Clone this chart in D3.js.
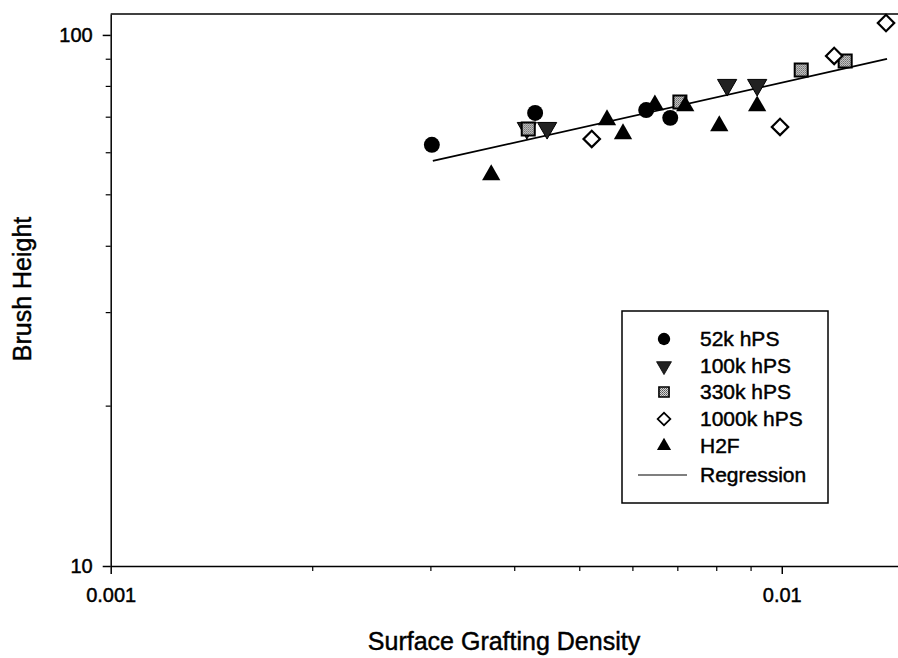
<!DOCTYPE html>
<html>
<head>
<meta charset="utf-8">
<script src="https://cdn.jsdelivr.net/npm/d3@7"></script>
<style>
  html, body { margin: 0; padding: 0; background: #fff; }
  svg { display: block; font-family: Arial, "Liberation Sans", Helvetica, sans-serif; }
  svg text { stroke: #000; stroke-width: 0.45px; fill: #000; }
</style>
</head>
<body>
<svg id="chart" width="898" height="658"></svg>
<script>
// Brush height vs surface grafting density (log-log)
const series52k   = [[0.00301, 62.1], [0.00429, 71.3], [0.00628, 72.2], [0.00682, 69.8]];
const series100k  = [[0.00417, 66.8], [0.00447, 66.8], [0.00829, 80.5], [0.00919, 80.5]];
const series330k  = [[0.00419, 66.5], [0.00705, 74.8], [0.01069, 85.9], [0.01243, 89.3]];
const series1000k = [[0.00521, 63.7], [0.00994, 67.1], [0.01197, 91.3], [0.01430, 105.3]];
const seriesH2F   = [[0.00369, 54.5], [0.00549, 69.2], [0.00580, 65.1], [0.00647, 73.8],
                     [0.00718, 73.5], [0.00807, 67.4], [0.00919, 73.5]];
const regression  = [[0.00302, 57.9], [0.01435, 90.1]];

const seriesNames = ["52k hPS", "100k hPS", "330k hPS", "1000k hPS", "H2F"];
const xTickLabels = ["0.001", "0.01"];
const yTickLabels = ["10", "100"];

const svg = d3.select("#chart");

const x = d3.scaleLog().domain([0.001, 0.0149]).range([110.7, 898]);
const y = d3.scaleLog().domain([10, 109.5]).range([566, 14]);

// gray halftone fill for the 330k squares
const defs = svg.append("defs");
const pat = defs.append("pattern").attr("id", "halftone")
  .attr("width", 2).attr("height", 2).attr("patternUnits", "userSpaceOnUse");
pat.append("rect").attr("width", 2).attr("height", 2).attr("fill", "#d8d8d8");
pat.append("rect").attr("width", 1).attr("height", 1).attr("fill", "#555");
pat.append("rect").attr("x", 1).attr("y", 1).attr("width", 1).attr("height", 1).attr("fill", "#777");

// frame: left, bottom, top (runs off the right edge)
const g = svg.append("g");
g.append("line").attr("x1", x.range()[0]).attr("x2", 898).attr("y1", y.range()[1]).attr("y2", y.range()[1])
  .attr("stroke", "#000").attr("stroke-width", 1.5);

// y axis
const yMajor = [10, 100];
const yMinor = d3.range(20, 100, 10);
const yAxis = d3.axisLeft(y).tickValues(yMajor).tickFormat((d, i) => yTickLabels[i])
  .tickSize(8).tickPadding(10).tickSizeOuter(0);
const ya = g.append("g").attr("transform", `translate(${x.range()[0]},0)`).call(yAxis);
ya.selectAll("text").attr("font-size", 20);
ya.select(".domain").attr("stroke-width", 1.5);
ya.selectAll(".tick line").attr("stroke-width", 1.5);
g.append("g").selectAll("line").data(yMinor).join("line")
  .attr("x1", x.range()[0] - 5).attr("x2", x.range()[0])
  .attr("y1", d => y(d)).attr("y2", d => y(d)).attr("stroke", "#000").attr("stroke-width", 1.2);

// x axis
const xMajor = [0.001, 0.01];
const xMinor = d3.range(2, 10).map(k => k * 0.001);
const xAxis = d3.axisBottom(x).tickValues(xMajor).tickFormat((d, i) => xTickLabels[i])
  .tickSize(8).tickPadding(14).tickSizeOuter(0);
const xa = g.append("g").attr("transform", `translate(0,${y.range()[0]})`).call(xAxis);
xa.selectAll("text").attr("font-size", 20);
xa.select(".domain").attr("stroke-width", 1.5);
xa.selectAll(".tick line").attr("stroke-width", 1.5);
g.append("g").selectAll("line").data(xMinor).join("line")
  .attr("x1", d => x(d)).attr("x2", d => x(d))
  .attr("y1", y.range()[0]).attr("y2", y.range()[0] + 5).attr("stroke", "#000").attr("stroke-width", 1.2);

// axis titles
svg.append("text").attr("x", 504).attr("y", 650).attr("text-anchor", "middle")
  .attr("font-size", 25).text("Surface Grafting Density");
svg.append("text").attr("transform", "translate(31,289) rotate(-90)").attr("text-anchor", "middle")
  .attr("font-size", 25).text("Brush Height");

// regression line
const line = d3.line().x(d => x(d[0])).y(d => y(d[1]));
svg.append("path").datum(regression).attr("d", line)
  .attr("fill", "none").attr("stroke", "#000").attr("stroke-width", 1.8);

// marker styles
const styles = [
  { type: d3.symbolCircle,   size: 200, fill: "#000", stroke: "none", sw: 0, rot: 0 },
  { type: d3.symbolTriangle, size: 160, fill: "#222", stroke: "#000", sw: 1, rot: 180 },
  { type: d3.symbolSquare,   size: 170, fill: "url(#halftone)", stroke: "#000", sw: 2, rot: 0 },
  { type: d3.symbolSquare,   size: 135, fill: "#fff", stroke: "#000", sw: 2.2, rot: 45 },
  { type: d3.symbolTriangle, size: 145, fill: "#000", stroke: "none", sw: 0, rot: 0 }
];
const allSeries = [series52k, series100k, series330k, series1000k, seriesH2F];

allSeries.forEach((data, i) => {
  const s = styles[i];
  svg.append("g").selectAll("path").data(data).join("path")
    .attr("d", d3.symbol().type(s.type).size(s.size))
    .attr("transform", d => `translate(${x(d[0])},${y(d[1])}) rotate(${s.rot})`)
    .attr("fill", s.fill).attr("stroke", s.stroke).attr("stroke-width", s.sw);
});

// legend
const lg = svg.append("g");
lg.append("rect").attr("x", 622).attr("y", 311).attr("width", 206).attr("height", 192)
  .attr("fill", "#fff").attr("stroke", "#000").attr("stroke-width", 1.5);
const rowY = [339, 366, 392, 419, 446];
seriesNames.forEach((name, i) => {
  const s = styles[i];
  lg.append("path")
    .attr("d", d3.symbol().type(s.type).size(s.size * 0.6))
    .attr("transform", `translate(664,${rowY[i]}) rotate(${s.rot})`)
    .attr("fill", s.fill).attr("stroke", s.stroke).attr("stroke-width", s.sw * 0.8);
  lg.append("text").attr("x", 700).attr("y", rowY[i]).attr("dy", "0.35em")
    .attr("font-size", 21).text(name);
});
lg.append("line").attr("x1", 638).attr("x2", 687).attr("y1", 475).attr("y2", 475)
  .attr("stroke", "#000").attr("stroke-width", 1.2);
lg.append("text").attr("x", 700).attr("y", 475).attr("dy", "0.35em")
  .attr("font-size", 21).text("Regression");
</script>
</body>
</html>
